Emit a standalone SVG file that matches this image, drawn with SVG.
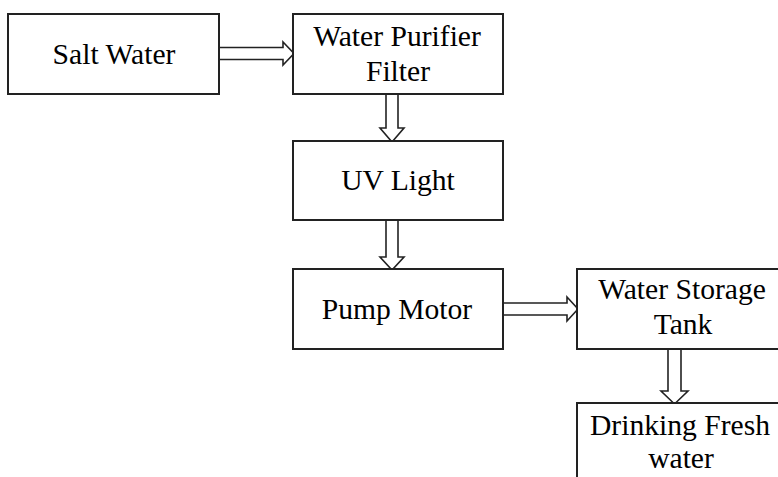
<svg xmlns="http://www.w3.org/2000/svg" width="778" height="477" viewBox="0 0 778 477">
<style>
.box{fill:#fff;stroke:#222;stroke-width:2}
.arr{fill:#fff;stroke:#222;stroke-width:1.6;stroke-linejoin:miter}
.t{font-family:'Liberation Serif','DejaVu Serif',serif;font-size:29.6px;fill:#000;text-anchor:middle}
</style>
<rect width="778" height="477" fill="#fff"/>
<g id="connectors">
<path class="arr" d="M219,47.5 H283 V42 L294,53.5 L283,65 V59.5 H219 Z"/>
<path class="arr" d="M386,94 V128 H380 L392,142 L404,128 H398 V94 Z"/>
<path class="arr" d="M386,220 V257 H380 L392,270 L404,257 H398 V220 Z"/>
<path class="arr" d="M503,303 H567 V297 L578,309 L567,321 V315 H503 Z"/>
<path class="arr" d="M668,349 V391 H661 L674.5,404 L688,391 H681 V349 Z"/>
</g>
<g id="salt-water">
<rect class="box" x="8" y="14" width="211" height="80"/>
<text class="t" x="114" y="64">Salt Water</text>
</g>
<g id="water-purifier-filter">
<rect class="box" x="293" y="14" width="210" height="80"/>
<text class="t" x="397" y="46">Water Purifier</text>
<text class="t" x="398" y="81">Filter</text>
</g>
<g id="uv-light">
<rect class="box" x="293" y="141" width="210" height="79"/>
<text class="t" x="398" y="190">UV Light</text>
</g>
<g id="pump-motor">
<rect class="box" x="293" y="269" width="210" height="80"/>
<text class="t" x="397" y="319">Pump Motor</text>
</g>
<g id="water-storage-tank">
<rect class="box" x="577" y="269" width="212" height="80"/>
<text class="t" x="682" y="299">Water Storage</text>
<text class="t" x="683" y="334">Tank</text>
</g>
<g id="drinking-fresh-water">
<rect class="box" x="577" y="403" width="212" height="90"/>
<text class="t" x="680" y="435">Drinking Fresh</text>
<text class="t" x="681" y="468">water</text>
</g>
</svg>
